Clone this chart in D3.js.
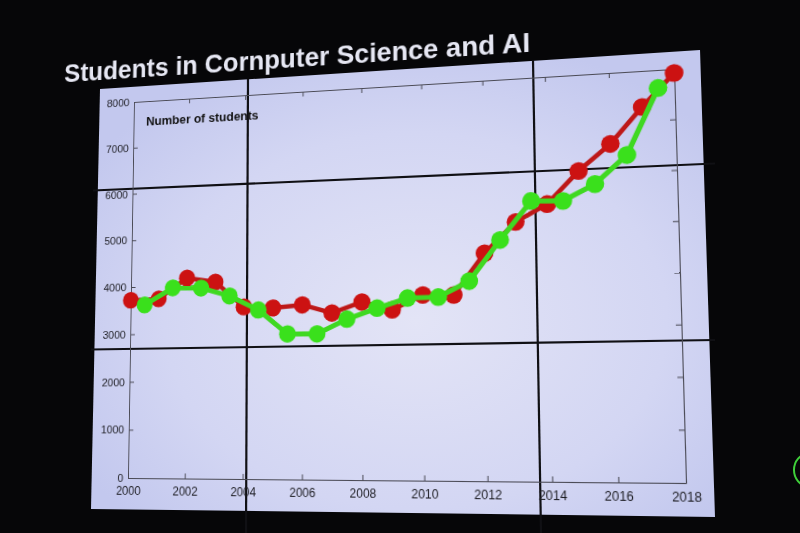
<!DOCTYPE html>
<html>
<head>
<meta charset="utf-8">
<script src="https://cdn.jsdelivr.net/npm/d3@7"></script>
<style>
  html, body { margin: 0; padding: 0; background: #050507; }
  #stage { position: relative; width: 800px; height: 533px; overflow: hidden; }
  #base { position: absolute; left: 0; top: 0; }
  #slide { position: absolute; left: 0; top: 0; transform-origin: 0 0; }
  text { font-family: "Liberation Sans", Arial, Helvetica, sans-serif; }
</style>
</head>
<body>
<div id="stage">
  <svg id="base" width="800" height="533"></svg>
  <div id="slide"></div>
</div>
<script>
// ---------- data ----------
const title = "Students in Cornputer Science and AI";
const yLabel = "Number of students";
const redYears = [2000, 2001, 2002, 2003, 2004, 2005, 2006, 2007, 2008, 2009,
                  2010, 2011, 2012, 2013, 2014, 2015, 2016, 2017, 2018];
const redValues = [3720, 3735, 4160, 4060, 3525, 3490, 3540, 3360, 3570, 3400,
                   3685, 3670, 4490, 5095, 5430, 6065, 6575, 7280, 7920];
const greenYears = [2000.5, 2001.5, 2002.5, 2003.5, 2004.5, 2005.5, 2006.5, 2007.5, 2008.5,
                    2009.5, 2010.5, 2011.5, 2012.5, 2013.5, 2014.5, 2015.5, 2016.5, 2017.5];
const greenValues = [3615, 3960, 3940, 3760, 3455, 2950, 2940, 3230, 3440,
                     3630, 3635, 3940, 4745, 5505, 5480, 5790, 6340, 7640];
const xTicks = [2000, 2002, 2004, 2006, 2008, 2010, 2012, 2014, 2016, 2018];
const yTicks = [0, 1000, 2000, 3000, 4000, 5000, 6000, 7000, 8000];

// ---------- photo backdrop (screen + bezels) ----------
const base = d3.select("#base");
base.append("rect").attr("width", 800).attr("height", 533).attr("fill", "#060608");
const defs = base.append("defs");
const rg = defs.append("radialGradient").attr("id", "scr")
  .attr("cx", "52%").attr("cy", "58%").attr("r", "62%");
rg.append("stop").attr("offset", "0%").attr("stop-color", "#e3e4f6");
rg.append("stop").attr("offset", "65%").attr("stop-color", "#d3d6f3");
rg.append("stop").attr("offset", "100%").attr("stop-color", "#c3c8ee");
const screenQuad = [[100, 89], [700, 50], [715, 517], [91, 509]];
base.append("polygon")
  .attr("points", screenQuad.map(p => p.join(",")).join(" "))
  .attr("fill", "url(#scr)");
const seams = [
  [[248, 79], [246, 533]],
  [[533, 60], [541, 533]],
  [[93, 190.5], [715, 163.5]],
  [[91, 349.5], [715, 340]]
];
base.selectAll("line.seam").data(seams).join("line")
  .attr("class", "seam")
  .attr("x1", d => d[0][0]).attr("y1", d => d[0][1])
  .attr("x2", d => d[1][0]).attr("y2", d => d[1][1])
  .attr("stroke", "#101014").attr("stroke-width", 2.2);
base.append("ellipse").attr("cx", 808).attr("cy", 470).attr("rx", 14).attr("ry", 16)
  .attr("fill", "none").attr("stroke", "#3fcf3a").attr("stroke-width", 2);

// ---------- flat slide, later projected ----------
const mL = 100, mT = 60, pw = 550, ph = 390;
const W = mL + pw + 40, H = mT + ph + 40;
const svg = d3.select("#slide").append("svg").attr("width", W).attr("height", H);

svg.append("text").attr("x", mL - 80).attr("y", mT - 25.5)
  .attr("font-size", 27.6).attr("font-weight", "bold").attr("fill", "#e6e7f3")
  .text(title);

const g = svg.append("g").attr("transform", `translate(${mL},${mT})`);
const x = d3.scaleLinear().domain([2000, 2018]).range([0, pw]);
const y = d3.scaleLinear().domain([0, 8000]).range([ph, 0]);

function styleAxis(sel) {
  sel.selectAll("path.domain").attr("stroke", "#4a4a55").attr("stroke-width", 1);
  sel.selectAll(".tick line").attr("stroke", "#4a4a55").attr("stroke-width", 1);
  sel.selectAll(".tick text").attr("fill", "#1e1e24")
    .attr("font-family", "'Liberation Sans', Arial, Helvetica, sans-serif");
}
g.append("g").attr("transform", `translate(0,${ph})`)
  .call(d3.axisBottom(x).tickValues(xTicks).tickFormat(d3.format("d"))
    .tickSizeInner(-5).tickSizeOuter(0).tickPadding(8))
  .call(styleAxis).call(s => s.selectAll(".tick text").attr("font-size", 12));
g.append("g")
  .call(d3.axisLeft(y).tickValues(yTicks).tickFormat(d3.format("d"))
    .tickSizeInner(-5).tickSizeOuter(0).tickPadding(5))
  .call(styleAxis).call(s => s.selectAll(".tick text").attr("font-size", 11.5));
g.append("g")
  .call(d3.axisTop(x).tickValues(xTicks).tickFormat("").tickSizeInner(-5).tickSizeOuter(0))
  .call(styleAxis);
g.append("g").attr("transform", `translate(${pw},0)`)
  .call(d3.axisRight(y).tickValues(yTicks).tickFormat("").tickSizeInner(-5).tickSizeOuter(0))
  .call(styleAxis);

g.append("text").attr("x", 14).attr("y", 26.5)
  .attr("font-size", 13).attr("font-weight", "bold").attr("fill", "#111")
  .text(yLabel);

const red = redYears.map((yr, i) => ({ x: yr, v: redValues[i] }));
const green = greenYears.map((yr, i) => ({ x: yr, v: greenValues[i] }));
const line = d3.line().x(d => x(d.x)).y(d => y(d.v));

g.append("path").datum(red).attr("d", line)
  .attr("fill", "none").attr("stroke", "#bd1818").attr("stroke-width", 4.5)
  .attr("stroke-linejoin", "round");
g.selectAll("circle.red").data(red).join("circle").attr("class", "red")
  .attr("cx", d => x(d.x)).attr("cy", d => y(d.v)).attr("r", 8.7)
  .attr("fill", "#cc1212");
g.append("path").datum(green).attr("d", line)
  .attr("fill", "none").attr("stroke", "#40d822").attr("stroke-width", 5)
  .attr("stroke-linejoin", "round");
g.selectAll("circle.green").data(green).join("circle").attr("class", "green")
  .attr("cx", d => x(d.x)).attr("cy", d => y(d.v)).attr("r", 8.7)
  .attr("fill", "#3ae01c");

// ---------- perspective: map plot rectangle onto the photographed quad ----------
const plotQuad = [[134, 102], [674, 69], [686, 483], [128, 478]];
function squareToQuad(q) {
  const [x0, y0] = q[0], [x1, y1] = q[1], [x2, y2] = q[2], [x3, y3] = q[3];
  const dx1 = x1 - x2, dx2 = x3 - x2, dx3 = x0 - x1 + x2 - x3;
  const dy1 = y1 - y2, dy2 = y3 - y2, dy3 = y0 - y1 + y2 - y3;
  const den = dx1 * dy2 - dx2 * dy1;
  const gg = (dx3 * dy2 - dx2 * dy3) / den;
  const hh = (dx1 * dy3 - dx3 * dy1) / den;
  return { a: x1 - x0 + gg * x1, b: x3 - x0 + hh * x3, c: x0,
           d: y1 - y0 + gg * y1, e: y3 - y0 + hh * y3, f: y0, g: gg, h: hh };
}
const q = squareToQuad(plotQuad);
const A = q.a / pw, B = q.b / ph, C = q.c - q.a * mL / pw - q.b * mT / ph;
const D = q.d / pw, E = q.e / ph, F = q.f - q.d * mL / pw - q.e * mT / ph;
const G = q.g / pw, Hh = q.h / ph, I = 1 - q.g * mL / pw - q.h * mT / ph;
d3.select("#slide").style("transform",
  `matrix3d(${A},${D},0,${G},${B},${E},0,${Hh},0,0,1,0,${C},${F},0,${I})`);
</script>
</body>
</html>
